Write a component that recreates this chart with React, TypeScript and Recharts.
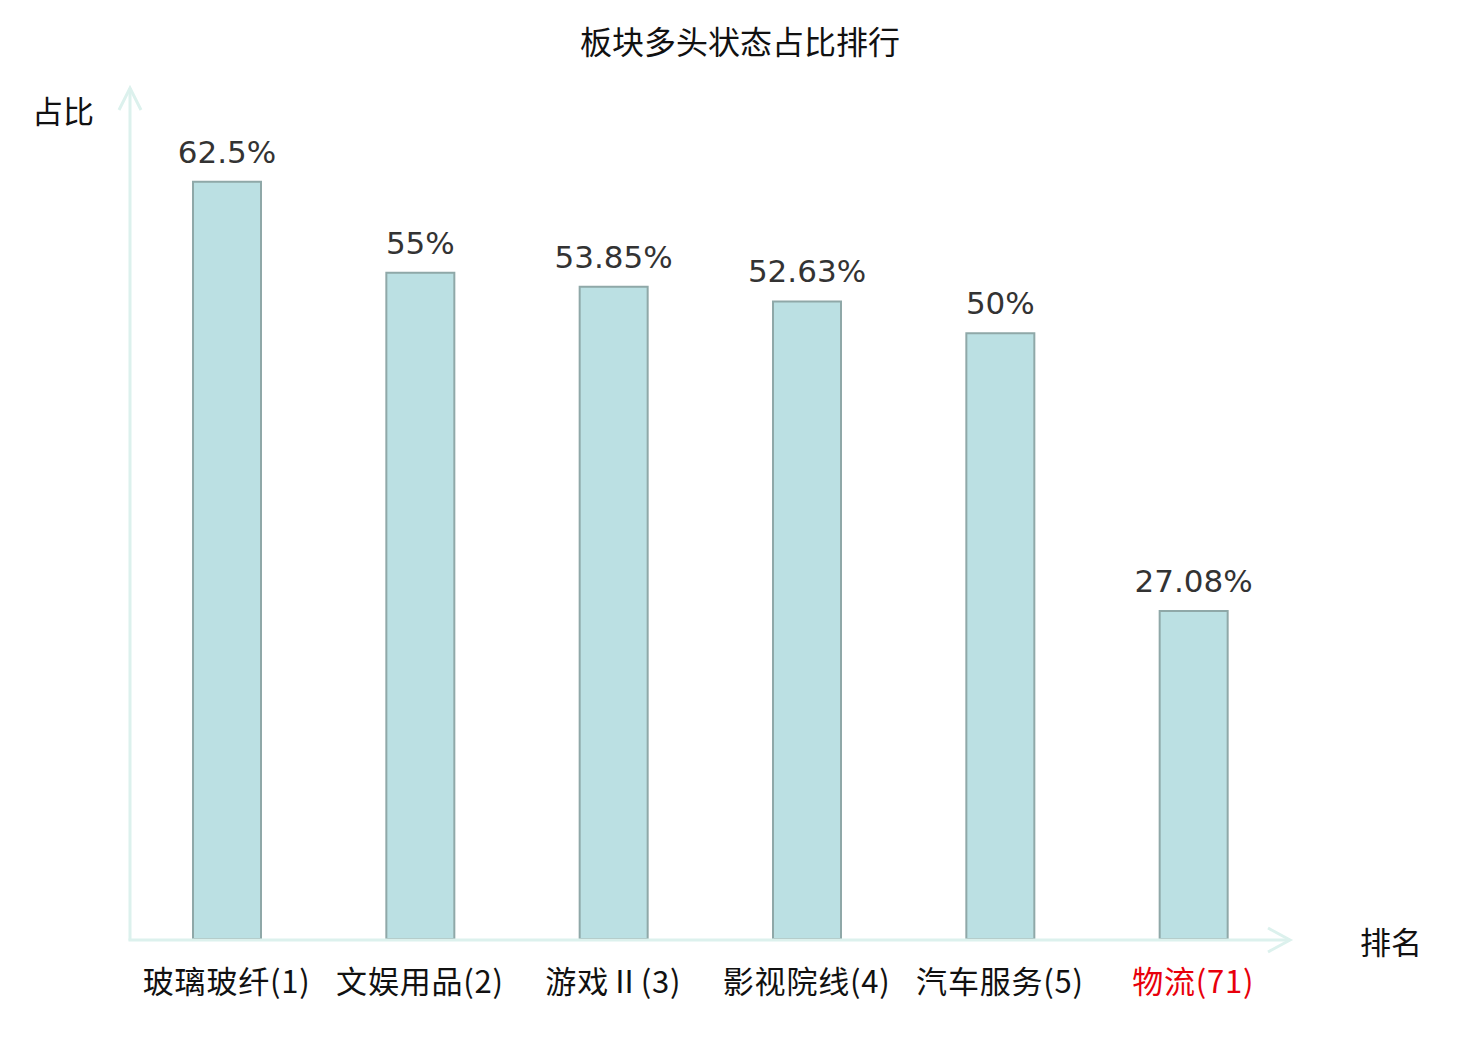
import React from "react";
import { BarChart, Bar, XAxis, YAxis, LabelList } from "recharts";

const categories = ["玻璃玻纤(1)", "文娱用品(2)", "游戏Ⅱ(3)", "影视院线(4)", "汽车服务(5)", "物流(71)"];
const values = [62.5, 55, 53.85, 52.63, 50, 27.08];
const valueLabels = ["62.5%", "55%", "53.85%", "52.63%", "50%", "27.08%"];
const highlighted = ["物流(71)"];

const data = categories.map((c, i) => ({ name: c, value: values[i], label: valueLabels[i] }));

const W = 1480;
const H = 1040;
const XAXIS_H = 30;
const M = { top: 91, right: 190, bottom: 101 - XAXIS_H, left: 130 };
const AXIS_COLOR = "#dcf1ed";
const CJK = '"Noto Sans CJK SC", "DejaVu Sans", sans-serif';

const Tick = (props: any) => {
  const { x, y, payload } = props;
  const red = highlighted.includes(payload.value);
  return (
    <text
      x={x}
      y={y + 38}
      textAnchor="middle"
      dominantBaseline="central"
      fontFamily={CJK}
      fontSize={31}
      letterSpacing={0.8}
      fill={red ? "#e8000b" : "#111"}
    >
      {payload.value}
    </text>
  );
};

export default function App() {
  const x0 = M.left;
  const x1 = W - M.right;
  const yb = H - 101;
  return (
    <div style={{ position: "absolute", left: 0, top: 0, width: W, height: H, background: "#fff" }}>
      <BarChart width={W} height={H} data={data} margin={M} barSize={68}>
        <XAxis
          dataKey="name"
          height={XAXIS_H}
          axisLine={false}
          tickLine={false}
          tickSize={0}
          tick={<Tick />}
          interval={0}
        />
        <YAxis domain={[0, 70]} hide width={0} />
        <Bar dataKey="value" fill="#bbe0e3" stroke="#8fa8a8" strokeWidth={2} isAnimationActive={false}>
          <LabelList
            dataKey="label"
            position="top"
            offset={19}
            fill="#333"
            fontSize={31}
            fontFamily='"DejaVu Sans", sans-serif'
          />
        </Bar>
      </BarChart>
      <svg
        width={W}
        height={H}
        style={{ position: "absolute", left: 0, top: 0, pointerEvents: "none" }}
      >
        <line x1={x0} y1={88} x2={x0} y2={yb + 1.5} stroke={AXIS_COLOR} strokeWidth={3} />
        <polyline
          points={`${x0 - 11},110 ${x0},88 ${x0 + 11},110`}
          fill="none"
          stroke={AXIS_COLOR}
          strokeWidth={3}
        />
        <line x1={x0 - 1.5} y1={yb + 1} x2={x1} y2={yb + 1} stroke={AXIS_COLOR} strokeWidth={3} />
        <polyline
          points={`${x1 - 22},${yb - 11} ${x1},${yb + 1} ${x1 - 22},${yb + 13}`}
          fill="none"
          stroke={AXIS_COLOR}
          strokeWidth={3}
        />
        <text x={740} y={40} textAnchor="middle" dominantBaseline="central" fontFamily={CJK} fontSize={32} fill="#111">
          板块多头状态占比排行
        </text>
        <text x={63} y={109} textAnchor="middle" dominantBaseline="central" fontFamily={CJK} fontSize={31} fill="#111">
          占比
        </text>
        <text x={1391} y={940} textAnchor="middle" dominantBaseline="central" fontFamily={CJK} fontSize={31} fill="#111">
          排名
        </text>
      </svg>
    </div>
  );
}
